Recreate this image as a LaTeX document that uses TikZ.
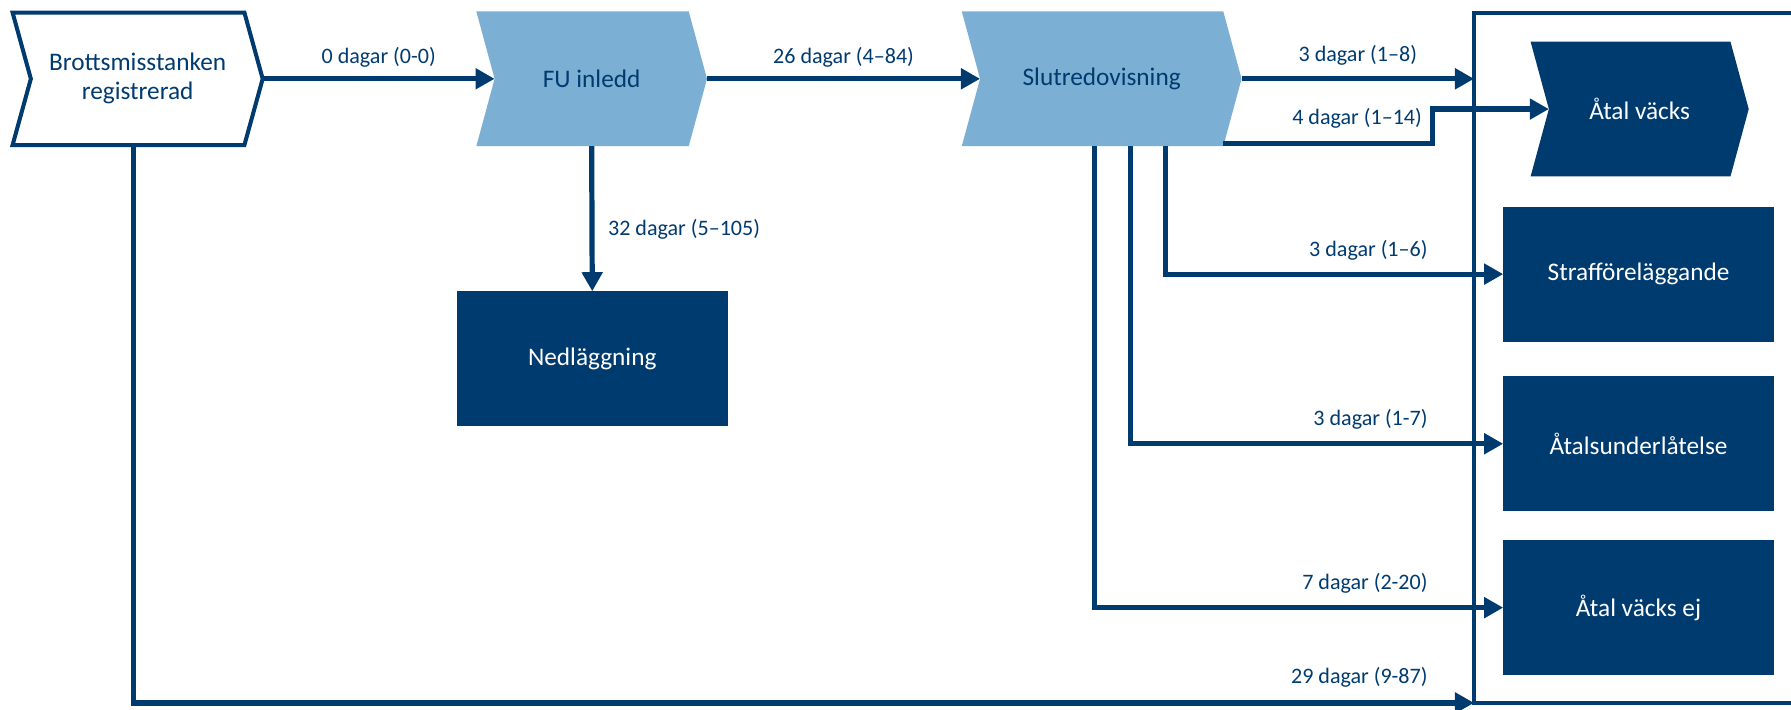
\documentclass[tikz,border=0pt]{standalone}
\usepackage{fontspec}
\setmainfont{Carlito}
\usetikzlibrary{arrows.meta,calc,backgrounds}
\definecolor{navy}{RGB}{0,59,112}
\definecolor{ljusbla}{RGB}{123,175,212}
\newcommand{\chevron}[2]{\fill[#2] (#1.north west) -- ([xshift=-3.2mm]#1.north east) -- (#1.east) -- ([xshift=-3.2mm]#1.south east) -- (#1.south west) -- ([xshift=3.2mm]#1.west) -- cycle;}
\begin{document}
\begin{tikzpicture}[x=0.02cm,y=-0.02cm,>={Triangle[length=9.5pt,width=10pt]},
    arr/.style={->,draw=navy,line width=2.6pt},
    lab/.style={text=navy,font=\fontsize{11}{13}\selectfont},
    steg/.style={inner sep=0pt,outer sep=0pt,minimum height=2.36cm,align=center,font=\fontsize{12.6}{14.5}\selectfont},
    utfall/.style={steg,fill=navy,text=white,minimum width=4.74cm}]
\useasboundingbox (0,0) rectangle (1568,621);
\node[steg,text=navy,minimum width=4.38cm,minimum height=2.32cm] (brott) at (120.5,69) {Brottsmisstanken\\registrerad};
\node[steg,text=navy,minimum width=4.04cm] (fu) at (518,69) {FU inledd};
\node[steg,text=navy,minimum width=4.9cm] (slut) at (964.5,69) {Slutredovisning};
\node[steg,text=white,minimum width=3.82cm] (atal) at (1435.5,95.5) {Åtal väcks};
\node[utfall] (ned) at (518.5,314) {Nedläggning};
\node[utfall] (straff) at (1434.5,240) {Strafföreläggande};
\node[utfall] (underl) at (1434.5,388.5) {Åtalsunderlåtelse};
\node[utfall] (ej) at (1434.5,532) {Åtal väcks ej};
\node[draw=navy,line width=2pt,inner sep=0pt,outer sep=0pt,minimum width=10.4cm,minimum height=12.08cm,anchor=north west] (ram) at (1290.5,11.5) {};
\begin{scope}[on background layer]
\chevron{brott}{fill=white,draw=navy,line width=2pt}
\chevron{fu}{ljusbla}
\chevron{slut}{ljusbla}
\chevron{atal}{navy}
\end{scope}
\coordinate (knick) at (1254,0);
\coordinate (lx) at (1256,0);
\draw[arr] (brott.east) -- ([xshift=3.2mm]fu.west) node[lab,midway,yshift=3.8mm] {0 dagar (0-0)};
\draw[arr] (fu.east) -- ([xshift=3.2mm]slut.west) node[lab,midway,yshift=3.8mm] {26 dagar (4–84)};
\draw[arr] (slut.east) -- (slut.east -| ram.west) node[lab,midway,yshift=4.2mm] {3 dagar (1–8)};
\draw[arr] ($(slut.south east)+(-16,-2.5)$) -- ($(slut.south east -| knick)+(0,-2.5)$) -- (knick |- atal.west) -- ([xshift=3.2mm]atal.west);
\node[lab,anchor=east] at ($(knick |- atal.west)+(-3,8.5)$) {4 dagar (1–14)};
\draw[arr] (fu.south) -- (ned.north) node[lab,midway,anchor=west,xshift=1.2mm,yshift=-1.8mm] {32 dagar (5–105)};
\draw[arr] ($(slut.south)+(56,0)$) |- (straff.west);
\node[lab,anchor=east] at ($(straff.west -| lx)+(0,-21)$) {3 dagar (1–6)};
\draw[arr] ($(slut.south)+(25,0)$) |- (underl.west);
\node[lab,anchor=east] at ($(underl.west -| lx)+(0,-21)$) {3 dagar (1-7)};
\draw[arr] ($(slut.south)+(-6.5,0)$) |- (ej.west);
\node[lab,anchor=east] at ($(ej.west -| lx)+(0,-21)$) {7 dagar (2-20)};
\draw[arr] ($(brott.south)+(-3.5,0)$) |- (ram.south west);
\node[lab,anchor=east] at ($(ram.south west -| lx)+(0,-22.5)$) {29 dagar (9-87)};
\end{tikzpicture}
\end{document}
